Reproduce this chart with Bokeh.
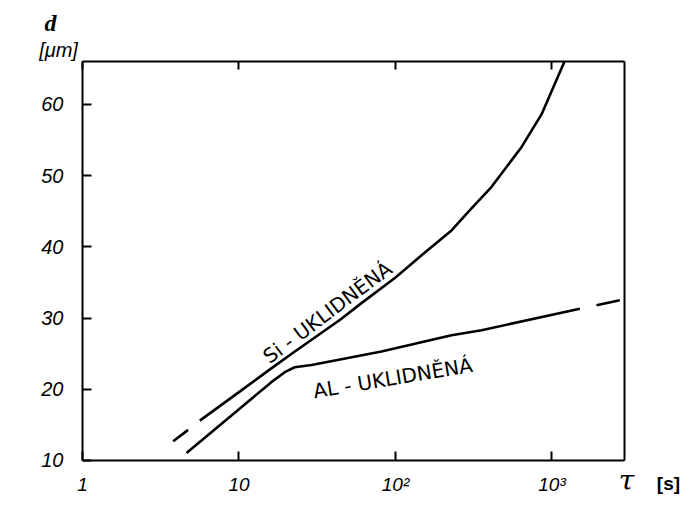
from bokeh.plotting import figure
from bokeh.models import LogAxis, LinearAxis, FixedTicker, Label, Range1d
from bokeh.embed import file_html
from bokeh.resources import INLINE

# --- data ---
x_ticks = [1, 10, 100, 1000]
x_tick_labels = ["1", "10", "10²", "10³"]
y_ticks = [10, 20, 30, 40, 50, 60]
x_lim = (1, 2900)
y_lim = (10, 66.04)

si_dash_tau = [3.8, 4.73]
si_dash_d = [12.7, 14.3]
si_tau = [5.62, 10, 16, 22.4, 44.5, 60.6, 100, 152, 228, 306, 410, 638, 857, 1200]
si_d = [15.6, 19.6, 22.9, 25.2, 29.8, 32.1, 35.7, 39.1, 42.3, 45.4, 48.4, 54.0, 58.6, 66.0]

al_tau = [4.62, 10, 16.1, 19.6, 22.7, 29.1, 81.4, 228, 355, 1506]
al_d = [11.05, 17.2, 21.0, 22.4, 23.1, 23.4, 25.3, 27.6, 28.3, 31.3]
al_dash_tau = [1924, 2712]
al_dash_d = [31.8, 32.5]

FONT = "Liberation Sans"

# the whole canvas is the plotting frame; the chart box is drawn by fixed axes
p = figure(width=684, height=517, x_axis_type="log",
           x_range=Range1d(0.2993, 7025), y_range=Range1d(1.994, 74.6),
           output_backend="svg", toolbar_location=None,
           min_border_left=0, min_border_right=0,
           min_border_top=0, min_border_bottom=0)
p.background_fill_color = "white"
p.border_fill_color = "white"
p.grid.visible = False
p.outline_line_color = None

# bottom axis
xa = p.xaxis[0]
xa.fixed_location = y_lim[0]
xa.bounds = x_lim
xa.ticker = FixedTicker(ticks=x_ticks, minor_ticks=[])
xa.major_label_overrides = {t: s for t, s in zip(x_ticks, x_tick_labels)}
xa.major_tick_in = 9
xa.major_tick_out = 0
xa.major_tick_line_width = 2
xa.axis_line_width = 2
xa.major_label_text_font = FONT
xa.major_label_text_font_style = "italic"
xa.major_label_text_font_size = "19px"
xa.major_label_text_color = "black"
xa.major_label_standoff = 14

# left axis
ya = p.yaxis[0]
ya.fixed_location = x_lim[0]
ya.bounds = y_lim
ya.ticker = FixedTicker(ticks=y_ticks, minor_ticks=[])
ya.major_tick_in = 9
ya.major_tick_out = 0
ya.major_tick_line_width = 2
ya.axis_line_width = 2
ya.major_label_text_font = FONT
ya.major_label_text_font_style = "italic"
ya.major_label_text_font_size = "20px"
ya.major_label_text_color = "black"
ya.major_label_standoff = 19

# top axis: inward ticks only
top = LogAxis(fixed_location=y_lim[1], bounds=x_lim,
              ticker=FixedTicker(ticks=x_ticks, minor_ticks=[]),
              major_tick_in=8, major_tick_out=0, major_tick_line_width=2,
              axis_line_width=2, major_label_text_color=None,
              major_label_text_font_size="1px")
p.add_layout(top, "above")

# right axis: frame line only
right = LinearAxis(fixed_location=x_lim[1], bounds=y_lim,
                   ticker=FixedTicker(ticks=[], minor_ticks=[]),
                   axis_line_width=2, major_label_text_color=None,
                   major_label_text_font_size="1px")
p.add_layout(right, "right")

# curves
p.line(si_tau, si_d, line_color="black", line_width=2.6, line_join="round")
p.line(si_dash_tau, si_dash_d, line_color="black", line_width=2.6)
p.line(al_tau, al_d, line_color="black", line_width=2.6, line_join="round")
p.line(al_dash_tau, al_dash_d, line_color="black", line_width=2.6)

# curve labels
p.add_layout(Label(x=14.8, y=24.3, text="Si - UKLIDNĚNÁ", angle=0.642,
                   text_font="DejaVu Sans", text_font_size="20px",
                   text_color="black",
                   text_align="left", text_baseline="alphabetic"))
p.add_layout(Label(x=29.9, y=19.7, text="AL - UKLIDNĚNÁ", angle=0.166,
                   text_font="DejaVu Sans", text_font_size="20px",
                   text_color="black",
                   text_align="left", text_baseline="alphabetic"))

# axis titles
p.add_layout(Label(x=0.624, y=71.5, text="d", text_font="Liberation Serif",
                   text_font_style="bold italic", text_font_size="24px",
                   text_color="black",
                   text_align="center", text_baseline="middle"))
p.add_layout(Label(x=0.703, y=67.7, text="[μm]", text_font=FONT,
                   text_font_style="italic", text_font_size="20px",
                   text_color="black",
                   text_align="center", text_baseline="middle"))
p.add_layout(Label(x=2992, y=7.19, text="τ", text_font="DejaVu Serif",
                   text_font_style="italic", text_font_size="28px",
                   text_color="black",
                   text_align="center", text_baseline="middle"))
p.add_layout(Label(x=5550, y=6.77, text="[s]", text_font=FONT,
                   text_font_style="bold", text_font_size="19px",
                   text_color="black",
                   text_align="center", text_baseline="middle"))

open("out.html", "w").write(file_html(p, INLINE))
